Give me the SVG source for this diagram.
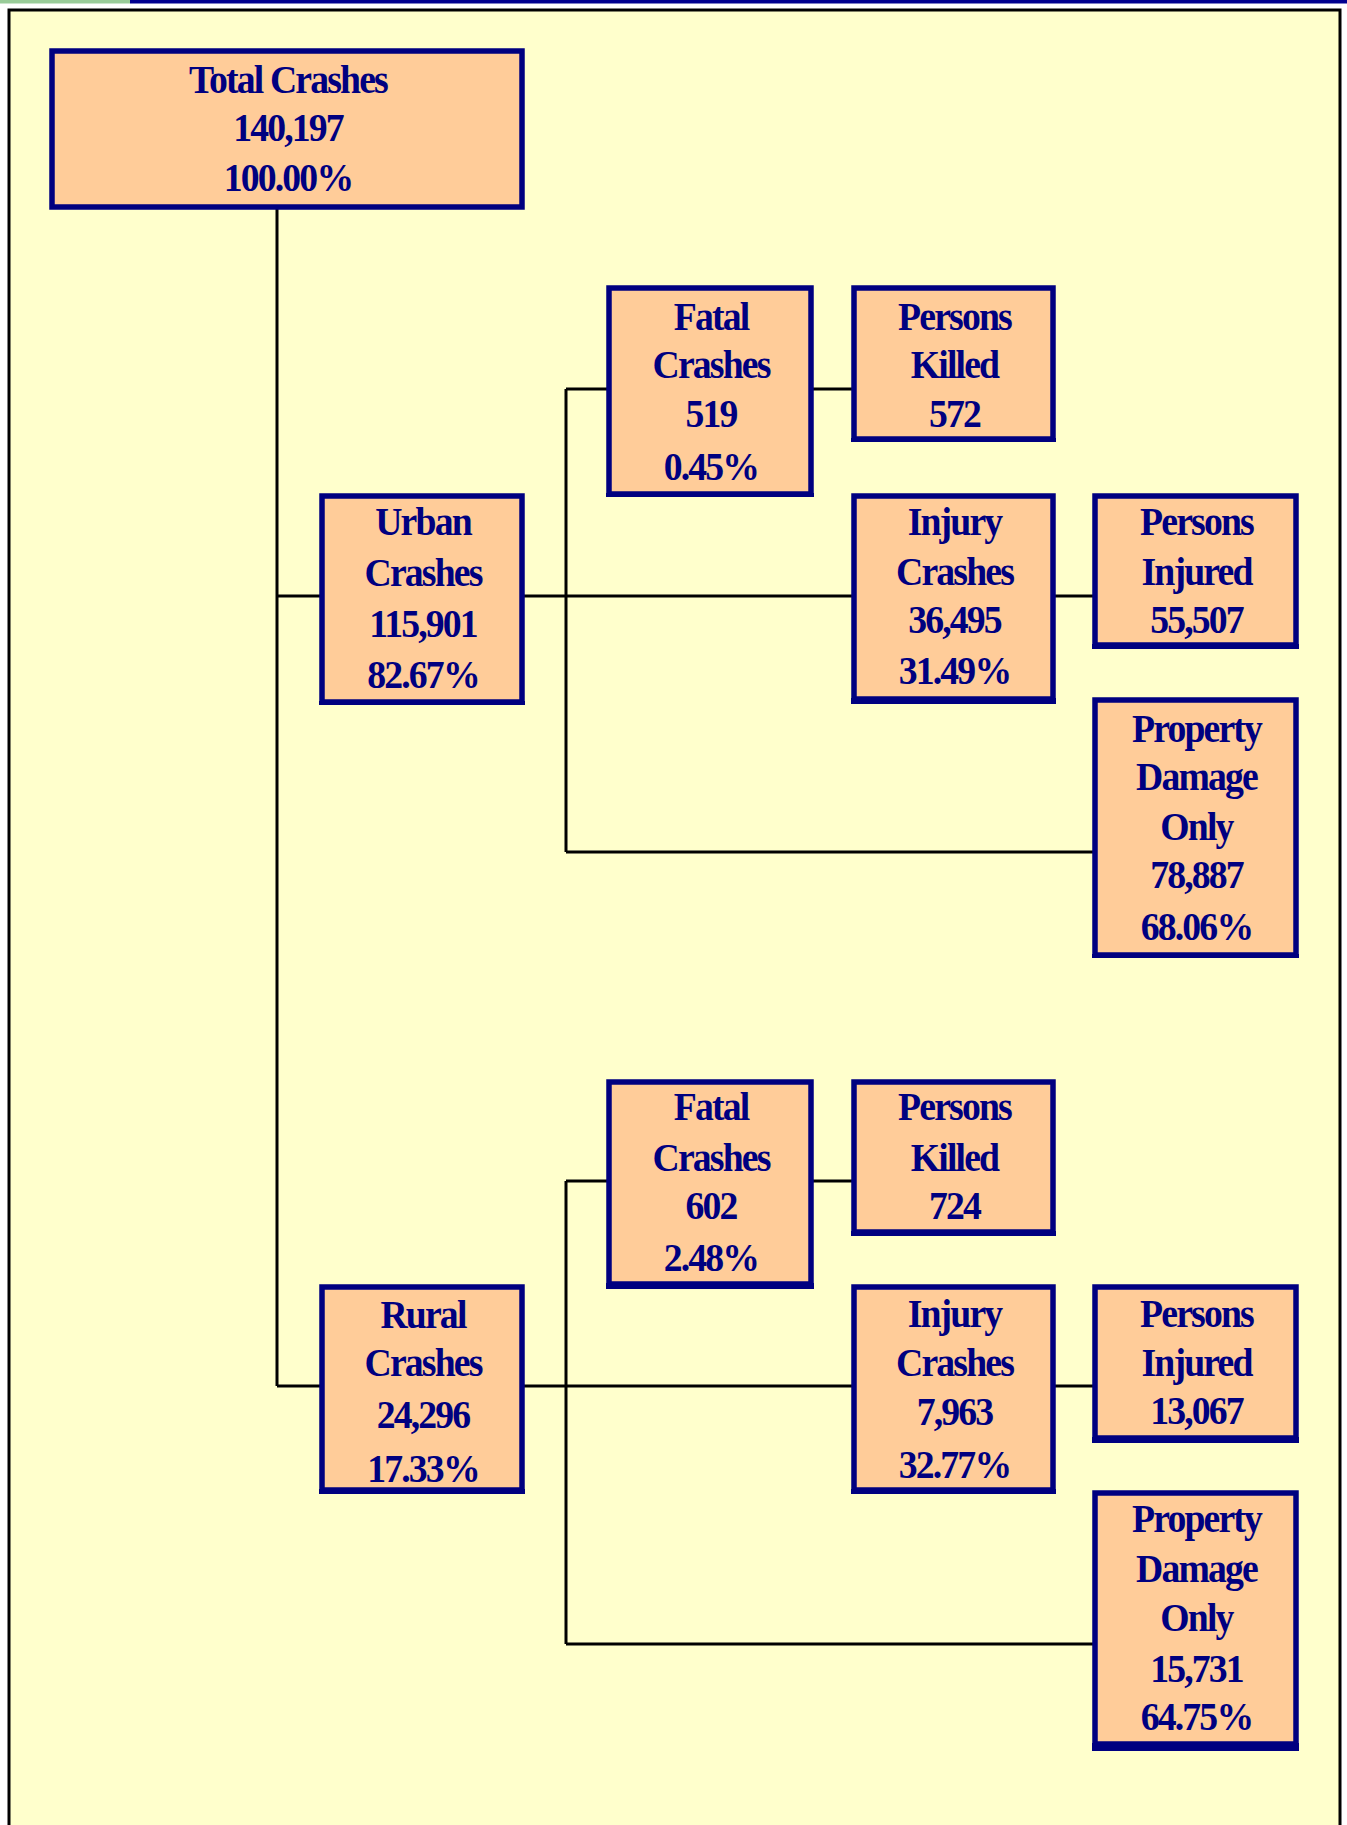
<svg xmlns="http://www.w3.org/2000/svg" width="1347" height="1825" viewBox="0 0 1347 1825">
<style>
.box{fill:#FFCC99;stroke:#000080;stroke-width:5.5}
.sh{fill:#000080}
.t{font-family:"Liberation Serif","Times New Roman",serif;font-weight:bold;font-size:41px;letter-spacing:-2px;fill:#000080;text-anchor:middle}
.c{stroke:#000;stroke-width:3;fill:none}
</style>
<rect x="0" y="0" width="1347" height="1825" fill="#FFFFFF"/>
<rect x="0" y="0" width="130" height="3.5" fill="#99CC99"/>
<rect x="130" y="0" width="1217" height="3.5" fill="#000090"/>
<rect x="9" y="10" width="1331" height="1830" fill="#FFFFCC" stroke="#000" stroke-width="3"/>
<g id="connectors">
<path class="c" d="M277 208V1386M277 596H322M522 596H854M566 389V852M566 389H609M811 389H854M1053 596H1095M566 852H1095"/>
<path class="c" d="M277 1386H322M522 1386H854M566 1181V1644M566 1181H609M811 1181H854M1053 1386H1095M566 1644H1095"/>
</g>
<g id="total">
<rect class="box" x="52" y="51" width="470" height="156"/>
<text class="t" transform="translate(288 0) scale(0.92 1)"><tspan x="0" y="93">Total Crashes</tspan><tspan x="0" y="141">140,197</tspan><tspan x="0" y="191">100.00%</tspan></text>
</g>
<g id="urban">
<rect class="box" x="322" y="496" width="200" height="206"/>
<rect class="sh" x="319" y="701" width="206" height="4"/>
<text class="t" transform="translate(423 0) scale(0.92 1)"><tspan x="0" y="535">Urban</tspan><tspan x="0" y="586">Crashes</tspan><tspan x="0" y="637">115,901</tspan><tspan x="0" y="688">82.67%</tspan></text>
</g>
<g id="urban-fatal">
<rect class="box" x="609" y="288" width="202" height="206"/>
<rect class="sh" x="606" y="493" width="208" height="4"/>
<text class="t" transform="translate(711 0) scale(0.92 1)"><tspan x="0" y="330">Fatal</tspan><tspan x="0" y="378">Crashes</tspan><tspan x="0" y="427">519</tspan><tspan x="0" y="480">0.45%</tspan></text>
</g>
<g id="urban-killed">
<rect class="box" x="854" y="288" width="199" height="151"/>
<rect class="sh" x="851" y="438" width="205" height="4"/>
<text class="t" transform="translate(954.5 0) scale(0.92 1)"><tspan x="0" y="330">Persons</tspan><tspan x="0" y="378">Killed</tspan><tspan x="0" y="427">572</tspan></text>
</g>
<g id="urban-injury">
<rect class="box" x="854" y="496" width="199" height="203"/>
<rect class="sh" x="851" y="698" width="205" height="6"/>
<text class="t" transform="translate(954.5 0) scale(0.92 1)"><tspan x="0" y="535">Injury</tspan><tspan x="0" y="585">Crashes</tspan><tspan x="0" y="633">36,495</tspan><tspan x="0" y="684">31.49%</tspan></text>
</g>
<g id="urban-injured">
<rect class="box" x="1095" y="496" width="201" height="149"/>
<rect class="sh" x="1092" y="644" width="207" height="5"/>
<text class="t" transform="translate(1196.5 0) scale(0.92 1)"><tspan x="0" y="535">Persons</tspan><tspan x="0" y="585">Injured</tspan><tspan x="0" y="633">55,507</tspan></text>
</g>
<g id="urban-pdo">
<rect class="box" x="1095" y="700" width="201" height="255"/>
<rect class="sh" x="1092" y="954" width="207" height="4"/>
<text class="t" transform="translate(1196.5 0) scale(0.92 1)"><tspan x="0" y="742">Property</tspan><tspan x="0" y="790">Damage</tspan><tspan x="0" y="840">Only</tspan><tspan x="0" y="888">78,887</tspan><tspan x="0" y="940">68.06%</tspan></text>
</g>
<g id="rural">
<rect class="box" x="322" y="1287" width="200" height="203"/>
<rect class="sh" x="319" y="1489" width="206" height="5"/>
<text class="t" transform="translate(423 0) scale(0.92 1)"><tspan x="0" y="1328">Rural</tspan><tspan x="0" y="1376">Crashes</tspan><tspan x="0" y="1428">24,296</tspan><tspan x="0" y="1482">17.33%</tspan></text>
</g>
<g id="rural-fatal">
<rect class="box" x="609" y="1082" width="202" height="202"/>
<rect class="sh" x="606" y="1283" width="208" height="6"/>
<text class="t" transform="translate(711 0) scale(0.92 1)"><tspan x="0" y="1120">Fatal</tspan><tspan x="0" y="1171">Crashes</tspan><tspan x="0" y="1219">602</tspan><tspan x="0" y="1271">2.48%</tspan></text>
</g>
<g id="rural-killed">
<rect class="box" x="854" y="1082" width="199" height="150"/>
<rect class="sh" x="851" y="1231" width="205" height="5"/>
<text class="t" transform="translate(954.5 0) scale(0.92 1)"><tspan x="0" y="1120">Persons</tspan><tspan x="0" y="1171">Killed</tspan><tspan x="0" y="1219">724</tspan></text>
</g>
<g id="rural-injury">
<rect class="box" x="854" y="1287" width="199" height="203"/>
<rect class="sh" x="851" y="1489" width="205" height="5"/>
<text class="t" transform="translate(954.5 0) scale(0.92 1)"><tspan x="0" y="1327">Injury</tspan><tspan x="0" y="1376">Crashes</tspan><tspan x="0" y="1425">7,963</tspan><tspan x="0" y="1478">32.77%</tspan></text>
</g>
<g id="rural-injured">
<rect class="box" x="1095" y="1287" width="201" height="151"/>
<rect class="sh" x="1092" y="1437" width="207" height="6"/>
<text class="t" transform="translate(1196.5 0) scale(0.92 1)"><tspan x="0" y="1327">Persons</tspan><tspan x="0" y="1376">Injured</tspan><tspan x="0" y="1424">13,067</tspan></text>
</g>
<g id="rural-pdo">
<rect class="box" x="1095" y="1493" width="201" height="251"/>
<rect class="sh" x="1092" y="1743" width="207" height="8"/>
<text class="t" transform="translate(1196.5 0) scale(0.92 1)"><tspan x="0" y="1532">Property</tspan><tspan x="0" y="1582">Damage</tspan><tspan x="0" y="1631">Only</tspan><tspan x="0" y="1682">15,731</tspan><tspan x="0" y="1730">64.75%</tspan></text>
</g>
</svg>
